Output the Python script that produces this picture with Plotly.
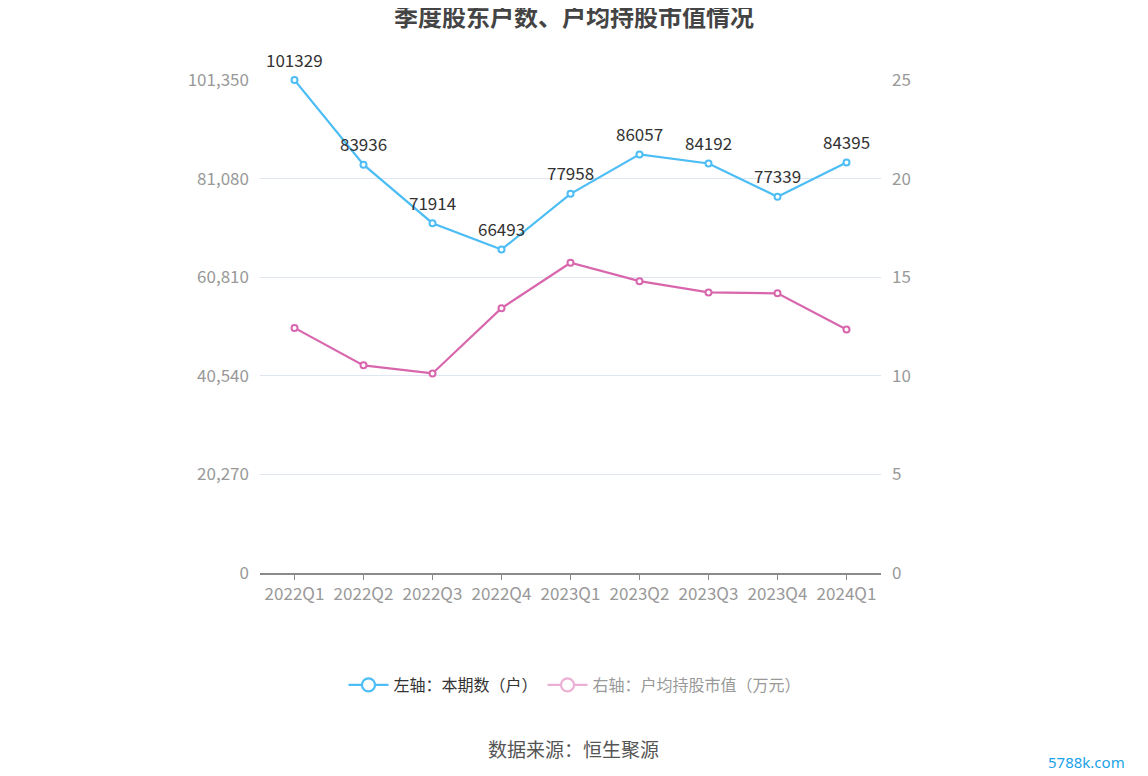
import plotly.graph_objects as go

quarters = ["2022Q1", "2022Q2", "2022Q3", "2022Q4", "2023Q1", "2023Q2", "2023Q3", "2023Q4", "2024Q1"]
holders = [101329, 83936, 71914, 66493, 77958, 86057, 84192, 77339, 84395]
avg_value = [12.43, 10.53, 10.12, 13.43, 15.73, 14.80, 14.23, 14.18, 12.35]
left_ticks = [0, 20270, 40540, 60810, 81080, 101350]
right_ticks = [0, 5, 10, 15, 20, 25]

BLUE = "#4cbdf5"
PINK = "#d866ad"
FONT = "Noto Sans CJK SC, Noto Sans, sans-serif"

W, H = 1148, 776
L, R, T, B = 252, 275, 72, 211
PW, PH = W - L - R, H - T - B

fig = go.Figure()
fig.add_trace(go.Scatter(
    x=quarters, y=holders, mode="lines+markers",
    line=dict(color=BLUE, width=2.2),
    marker=dict(symbol="circle", size=6, color="white", line=dict(color=BLUE, width=2)),
    showlegend=False, yaxis="y", cliponaxis=False,
))
fig.add_trace(go.Scatter(
    x=quarters, y=avg_value, mode="lines+markers",
    line=dict(color=PINK, width=2.2),
    marker=dict(symbol="circle", size=6, color="white", line=dict(color=PINK, width=2)),
    showlegend=False, yaxis="y2", cliponaxis=False,
))
# legend entries
fig.add_trace(go.Scatter(
    x=[None], y=[None], mode="lines+markers", name="左轴：本期数（户）",
    line=dict(color=BLUE, width=2.2),
    marker=dict(symbol="circle", size=13, color="white", line=dict(color=BLUE, width=2.2)),
))
fig.add_trace(go.Scatter(
    x=[None], y=[None], mode="lines+markers",
    name="<span style='color:#999999'>右轴：户均持股市值（万元）</span>",
    line=dict(color="#ebb0d4", width=2.2),
    marker=dict(symbol="circle", size=13, color="white", line=dict(color="#ebb0d4", width=2.2)),
    yaxis="y2",
))

annotations = []
for q, v in zip(quarters, holders):
    annotations.append(dict(x=q, y=v, xref="x", yref="y", text=str(v), showarrow=False,
                            yshift=21, font=dict(size=17, color="#333333")))
annotations.append(dict(text="数据来源：恒生聚源", x=(565 - L) / PW, xref="paper",
                        xanchor="center", yanchor="middle",
                        y=(H - B - 740) / PH, yref="paper", showarrow=False,
                        font=dict(size=19, color="#555555")))
annotations.append(dict(text="5788k.com", xref="paper", yref="paper",
                        xanchor="center", yanchor="middle",
                        x=(1078 - L) / PW, y=(H - B - 754) / PH, showarrow=False,
                        font=dict(size=15, color="#1aa3e8", family="Noto Sans, sans-serif")))

fig.update_layout(
    width=W, height=H,
    paper_bgcolor="white", plot_bgcolor="white",
    margin=dict(l=L, r=R, t=T, b=B),
    font=dict(family=FONT, color="#999999", size=17),
    title=dict(text="<b>季度股东户数、户均持股市值情况</b>", x=0.5 - 8 / W, xanchor="center",
               y=1 - 10 / H, yanchor="middle", font=dict(size=24, color="#444444", family=FONT)),
    xaxis=dict(
        type="category", categoryorder="array", categoryarray=quarters,
        range=[-0.5, len(quarters) - 0.5],
        showline=True, linecolor="#8a8a8a", linewidth=1.5,
        ticks="outside", ticklen=5, tickcolor="#8a8a8a",
        showgrid=False, tickfont=dict(size=17, color="#999999"),
    ),
    yaxis=dict(
        range=[0, 101350], tickvals=left_ticks,
        ticktext=[f"{v:,}" for v in left_ticks],
        showgrid=True, gridcolor="#e0e6f1", gridwidth=1, zeroline=False,
        showline=False, ticks="", tickfont=dict(size=17, color="#999999"),
        ticklabelstandoff=10,
    ),
    yaxis2=dict(
        range=[0, 25], tickvals=right_ticks, overlaying="y", side="right",
        showgrid=False, zeroline=False, showline=False, ticks="",
        tickfont=dict(size=17, color="#999999"), ticklabelstandoff=10,
    ),
    legend=dict(orientation="h", x=(567 - L) / PW, xanchor="center",
                y=(H - B - 677) / PH, yanchor="middle",
                font=dict(size=16, color="#333333"), itemwidth=40),
    annotations=annotations,
)

fig.write_html("out.html")
